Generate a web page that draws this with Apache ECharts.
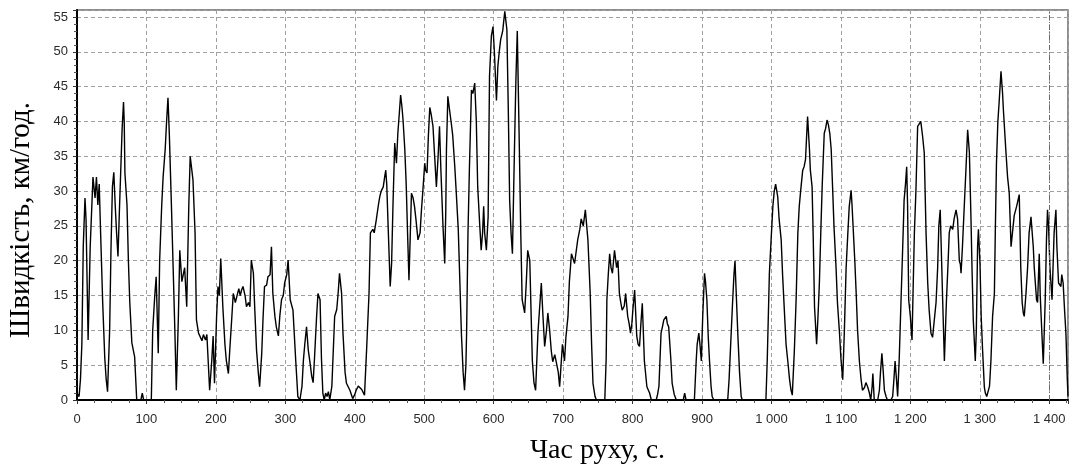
<!DOCTYPE html>
<html><head><meta charset="utf-8">
<script src="https://cdn.jsdelivr.net/npm/echarts@6/dist/echarts.min.js"></script>
<style>html,body{margin:0;padding:0;background:#fff}#c{width:1070px;height:466px}</style>
</head><body><div id="c"></div>
<script>
var xTitle = 'Час руху, с.';
var yTitle = 'Швидкість, км/год.';
var markerTime = 1400;
var times = [0,3,5,7,9,11.5,13,16,19,21,23,26,28,30,32,34,37,40,42,44,47,49,51,53,55,57,59,61,63,65,67,68,69,72,74,76,79,83,86,92,94,96,107,109,112,114,117,119,122,124,127,129,131,133,136,139,141,143,146,148,151,155,158,161,163,167,170,172,175,177,180,182,185,187,189,191,194,196,198,201,203,205,207,210,213,215,218,220,223,225,228,230,233,235,237,239,242,244,247,249,251,254,256,258.5,261,263,266,268,270,273,275,278,280,282,285,287,290,292,294.5,297,299,302,304,307,311,315,318,321,324,326,328,330.5,333,336,338,340,342,345,347,350,352,354,356,358,360,362,364,367,369,371,374,376,378,381,383,386,388,391,393,395,397,400,402,405,407,410,414,417,420.5,422.5,426,428,431,434,436,438,441,443,444.6,446,448,451,453,455,457.5,460,462,464,466,468,469.5,472,474,476,478,480,481.6,484,486,488,491,494,496,498,500.7,502,504,506,508,510,512.6,515,517.5,520,522,524,527,529.5,531,532,534,536,539,541,544,546,549,551,553.5,556,558,560,561,563,565,568,570,572.7,575,577,580,582,584,585.6,587,589.5,592,594,596.7,599,601,604,606,608,610,613,616,619,621,623,625,627,630,632,634,637,639,641,644.6,647,649,652,654,655.7,658,660.4,663.7,666,668.6,671,673.4,676,678,680.6,683,685,688,690,693,695,697,699,702,704,707,709,712,716.5,719,721,724,726,729,732,735.7,739,741,743,746,748,760,762,763,765,767,769,771,774,777,779,781,783,785,788,790,793,795,797,799,800.4,803,806,808,810,812,814,817,820.6,824.5,827,834,836,838,841,843,845,848.5,850,852,855,857,860,863,873,875,877,889,891.6,893,895.4,897,899,901,903.6,905,907,909,910.8,913,914.6,917,937,939,942,944,946,947.5,949,951.5,954,956.4,958,992,994,997,1000,1002,1004,1006,1009,1011,1014,1016,1019,1021,1023.5,1026,1028,1030,1033,1035.5,1038,1040,1042,1045,1047,1049,1052,1054.7,1056,1058.5,1060,1062,1065,1067,1069,1071,1073,1076,1078,1080,1082,1084,1086,1088,1090,1093,1095,1098,1100,1102.6,1105,1107.5,1110,1112,1114.7,1116,1118,1120,1122,1124,1126.6,1129,1131,1134,1136,1138.5,1141,1143,1145,1146,1148,1153,1155.4,1157,1159,1161,1162.6,1165,1167,1172,1174.5,1176,1178,1180,1181.7,1184,1186.6,1189,1191,1193,1194.7,1196,1197.6,1200,1202.4,1204,1205.8,1208,1210.5,1213,1215,1217.7,1220,1222.6,1225,1227,1229.7,1232,1234.5,1237,1239.3,1241,1243,1245,1246.5,1249,1252,1254,1256,1258,1261,1263,1265.8,1268,1270.5,1272,1273,1275,1277.7,1280,1282.5,1285,1287.3,1289,1290.6,1293.5,1295,1296.8,1298,1300.3,1302,1304,1306.5,1308,1310,1312.7,1314,1316,1318.4,1321,1322.3,1324,1326,1328,1330.5,1332.8,1334,1337.7,1340,1342.4,1345,1347,1349.6,1353,1356.8,1359,1361,1362.6,1364,1366.5,1368.8,1371,1373.7,1377,1378.4,1381.7,1383.2,1385.6,1387,1389.4,1391.4,1394.2,1396,1397.5,1399,1401,1404,1407,1409.6,1411,1413.4,1416.8,1418,1420,1422,1424,1426,1427];
var speeds = [1,0.5,3,8,22,29,26,8.6,22,27,32,29,32,28,31,24,14,6,3,1.2,10,22,30.6,32.7,28,24,20.6,27,33,39,42.8,40,32.6,28,20,14,8.2,6.2,0,0,1,0,0,10,15,17.7,6.7,20,28,32,36,40,43.4,38,27.8,17,9.6,1.4,12,21.5,17,19,13.4,28,35,31.6,24,11.5,9.6,9.6,8.5,9.4,8.6,9.4,9.6,1.4,5.6,9.2,2.4,12,16.3,15,20.3,13.4,8,5.7,3.8,7.2,12,15.3,14,14.8,16,15,15.8,16.3,15,13.4,14,13.4,20.1,18.2,13,7.2,4,1.9,6.7,12,16.3,16.5,17.7,18,22,15.3,12,10.5,9.2,12,14.4,15,16.8,18,20.1,14.4,12.9,5.6,0.5,0,2,5.7,8,10.5,7.2,5,3.4,2.5,6,12,15.3,14.4,6,1,0,1,0.5,1.2,0,2,7,12,13,15.3,18.2,15.3,9.6,4,2.4,1.8,1.4,0.8,0.2,0.8,1.4,2,1.9,1.5,0.7,7.2,15.3,24,24.5,24,25.9,28,29.2,30,30.6,32,33,31,25,16.3,19.6,28,36.9,34,38.3,41,43.8,42,40.2,36,31.1,24,17.2,24,29.7,29,27.8,26,23,24,27.3,30,34,33,32.6,38,42,41,39.3,35,30.6,35,39.3,33,25,19.6,27,36,43.6,42,39.7,38,33.5,30,24.5,18,9.6,4,1.4,5,9.6,24,33,44.5,44,45.5,40,30.6,25,21.5,24,27.8,24,21.5,26.3,46.5,52.3,53.6,50,43,47.9,50,51.7,53,55.8,53.2,42,28.7,24,21,36.4,46,53,36,24,14.4,12.5,17,21.5,20,12,5.6,2.5,1.4,9.6,13,16.8,12,7.7,10,12.5,10,7,5.5,6.5,6.7,4,1.9,5,8,5.6,9,12,17,21,19.6,21.5,23,24.5,26,25,27.3,23,15.3,8,2.4,0.5,0,0,6,14.4,18,21,19,18.2,21.5,19,20,15.3,14,12.9,13.5,15.3,12,11,9.6,11,12.9,15.8,9.2,8,7.7,11,13.9,5.6,1.9,1,0,0,0.8,2,9.6,10.5,11.5,12,11,10.5,6,2.4,0.8,0,0,1,0,0,5.6,8,9.6,8,5.6,12,18.2,17,14.4,9,5.6,2,0.5,0,0,3,9.6,14,18,20,16,9.6,4,0.5,0,0,6,18.2,24,27.8,30,31,29.2,26,23,18,12,8,5.6,3,1.5,0.7,7.2,14.4,24,27.8,30,33,33.5,34.5,40.7,36,33,30.6,24,13.4,8,12,16.8,24,30.6,38.3,39,40.2,39.5,38.3,36,30.6,25,19,14,9.6,6,2.9,10,19,24,27.8,30.1,28,24,20,15.3,10,5.6,3,1.4,1.8,2.5,1.9,1,0,2,3.8,0,0,1.4,4,6.7,4,1.4,0.5,0,0,0.5,2.5,5.6,3,0.5,6,14.4,22,28.7,31,33.5,28,14.4,12,8.6,16,24,30,39.3,39.7,40,37.8,35.5,24,16.8,13,9.6,9,9.2,14,19,25,27.3,20,14.4,5.6,14.4,19,24,25,24.5,26,27.3,26,20,19.5,18.2,22,28,33,38.8,35.5,26,18,11.5,5.6,10,22,24.5,19.5,12,7.2,1.9,1,0.5,0.5,2,5.6,12,15.3,24,34,40,43,47.2,44,41.6,35.5,32,29.7,22,24,26.5,27.8,29.5,19,14,12.5,12,15.3,19,24,26.3,22,19,14.4,14,21,15,9.6,5.2,14.4,23,27.3,25,19,14.4,24,27.3,22,16.8,16.3,18,16.8,13,9.6,3,0.5];

var pts = times.map(function (t, i) { return [t, speeds[i]]; });
var chart = echarts.init(document.getElementById('c'));
chart.setOption({
  animation: false,
  backgroundColor: '#fff',
  grid: { left: 77, right: 2, top: 10, bottom: 66, containLabel: false, outerBoundsMode: 'none',
    show: true, borderColor: '#6a6a6a', borderWidth: 1.5, backgroundColor: 'transparent' },
  xAxis: {
    type: 'value', min: 0, max: 1427, interval: 100,
    name: xTitle, nameLocation: 'middle', nameGap: 37,
    nameTextStyle: { fontFamily: 'Liberation Serif', fontSize: 28, color: '#000', padding: [0, 0, 0, 50] },
    axisLine: { show: true, onZero: false, lineStyle: { color: '#000', width: 2 } },
    axisTick: { show: true, length: 4, lineStyle: { color: '#333' } },
    minorTick: { show: true, splitNumber: 4, length: 3, lineStyle: { color: '#555' } },
    axisLabel: { showMaxLabel: false, fontFamily: 'Liberation Sans', fontSize: 13, color: '#2b2b2b', margin: 13,
      formatter: function (v) { return v >= 1000 ? Math.floor(v / 1000) + ' ' + String(v % 1000).padStart(3, '0') : String(v); } },
    splitLine: { show: true, lineStyle: { color: '#a0a0a0', type: [4, 3], width: 1 } }
  },
  yAxis: {
    type: 'value', min: 0, max: 56, interval: 5,
    name: yTitle, nameLocation: 'middle', nameGap: 41, nameRotate: 90,
    nameTextStyle: { fontFamily: 'Liberation Serif', fontSize: 29, color: '#000', padding: [0, 30, 0, 0] },
    axisLine: { show: true, lineStyle: { color: '#000', width: 2 } },
    axisTick: { show: true, length: 4, lineStyle: { color: '#333' } },
    minorTick: { show: true, splitNumber: 5, length: 3, lineStyle: { color: '#555' } },
    axisLabel: { showMaxLabel: false, fontFamily: 'Liberation Sans', fontSize: 13, color: '#2b2b2b', margin: 9 },
    splitLine: { show: true, lineStyle: { color: '#a0a0a0', type: [4, 3], width: 1 } }
  },
  series: [{
    type: 'line', data: pts, showSymbol: false, symbol: 'none',
    lineStyle: { color: '#000', width: 1.4 },
    markLine: { silent: true, symbol: 'none', label: { show: false },
      lineStyle: { color: '#d04040', type: [5, 2, 1, 2], width: 1 },
      data: [{ xAxis: markerTime }] }
  }]
});
</script></body></html>
